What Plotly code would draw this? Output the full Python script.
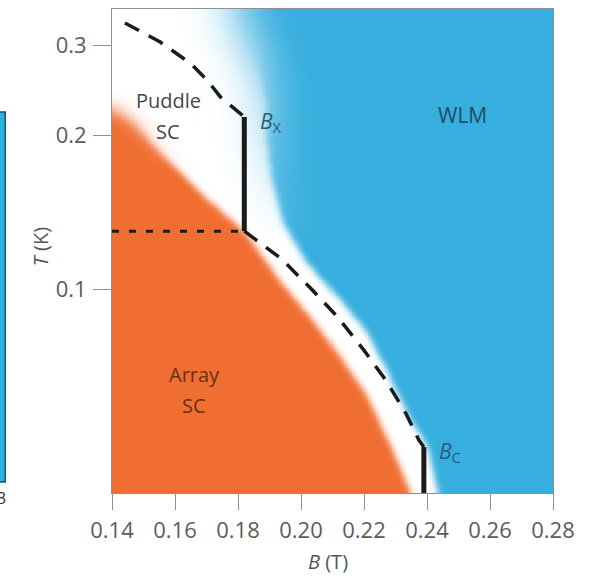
import numpy as np
import plotly.graph_objects as go

# ---- phase-diagram data (B in tesla, T in kelvin) ----
# edge of the array-superconductor (orange) region
array_edge_T = [0.226, 0.222, 0.212, 0.193, 0.150, 0.130, 0.104, 0.087, 0.075, 0.0617, 0.0479, 0.040, 0.030]
array_edge_B = [0.140, 0.142, 0.147, 0.1527, 0.1705, 0.182, 0.1935, 0.204, 0.2116, 0.2211, 0.2294, 0.2348, 0.238]

# edge of the weakly localized metal (blue) region
wlm_edge_T = [0.40, 0.352, 0.281, 0.2347, 0.1874, 0.1637, 0.1349, 0.1127, 0.0967, 0.0822, 0.0687, 0.0556, 0.0492, 0.040, 0.030]
wlm_edge_B = [0.176, 0.1790, 0.1865, 0.1890, 0.1897, 0.1910, 0.1945, 0.2020, 0.2116, 0.2211, 0.2275, 0.2348, 0.2402, 0.2434, 0.246]

# dashed crossover line, above and below B_X
upper_dash_B = [0.1441, 0.1553, 0.1648, 0.1702, 0.1744, 0.1791, 0.182]
upper_dash_T = [0.3319, 0.3046, 0.2771, 0.2567, 0.2379, 0.2244, 0.2174]
lower_dash_B = [0.182, 0.1935, 0.2030, 0.2116, 0.2199, 0.2269, 0.2332, 0.2374, 0.2390]
lower_dash_T = [0.130, 0.1152, 0.1007, 0.0884, 0.0762, 0.0665, 0.0574, 0.0508, 0.0492]

# characteristic fields
B_X, B_X_T = 0.182, [0.130, 0.2174]
B_C, B_C_T = 0.2390, [0.0492, 0.030]
T_puddle = 0.130  # dotted line up to B_X

x_range = [0.14, 0.28]
logT_range = [-1.3978, -0.4517]
x_ticks = [0.14, 0.16, 0.18, 0.20, 0.22, 0.24, 0.26, 0.28]
x_tick_text = ["0.14", "0.16", "0.18", "0.20", "0.22", "0.24", "0.26", "0.28"]
y_ticks = [0.1, 0.2, 0.3]
y_tick_text = ["0.1", "0.2", "0.3"]

ORANGE = "#F06E32"
BLUE = "#36AEDE"
FONT = "Open Sans"

# ---- colour field: masks from the edges, softened with a gaussian ----
nx, ny = 221, 243
Bg = np.linspace(x_range[0], x_range[1], nx)
LTg = np.linspace(logT_range[0], logT_range[1], ny)
BB, LL = np.meshgrid(Bg, LTg)

def edge_B(logT, T_list, B_list):
    lt = np.log10(np.array(T_list))[::-1]
    b = np.array(B_list)[::-1]
    return np.interp(logT, lt, b)

orange_mask = ((BB < edge_B(LL, array_edge_T, array_edge_B)) &
               (LL <= np.log10(array_edge_T[0]))).astype(float)
blue_mask = (BB > edge_B(LL, wlm_edge_T, wlm_edge_B)).astype(float)

def blur(a, sigma):
    r = int(np.ceil(3 * sigma))
    k = np.exp(-0.5 * (np.arange(-r, r + 1) / sigma) ** 2)
    k /= k.sum()
    p = np.pad(a, r, mode="edge")
    p = np.apply_along_axis(lambda v: np.convolve(v, k, mode="valid"), 1, p)
    p = np.apply_along_axis(lambda v: np.convolve(v, k, mode="valid"), 0, p)
    return p

# softer edges towards the top of the diagram
frac_top = (LL - logT_range[0]) / (logT_range[1] - logT_range[0])  # 0 bottom, 1 top
w_blue = np.clip((frac_top - 0.50) / (0.92 - 0.50), 0, 1)
w_orange = np.clip((frac_top - 0.66) / (0.80 - 0.66), 0, 1)

blue = (1 - w_blue) * blur(blue_mask, 1.6) + w_blue * blur(blue_mask, 12.0)
orange = (1 - w_orange) * blur(orange_mask, 1.6) + w_orange * blur(orange_mask, 4.0)
z = np.round(np.clip(blue - orange, -1, 1), 3)

fig = go.Figure()
fig.add_trace(go.Heatmap(
    x=Bg, y=10 ** LTg, z=z,
    colorscale=[[0, ORANGE], [0.5, "#FFFFFF"], [1, BLUE]],
    zmin=-1, zmax=1, showscale=False, hoverinfo="skip",
))

line_col = "#1b1b1b"
fig.add_trace(go.Scatter(x=[x_range[0], B_X], y=[T_puddle, T_puddle], mode="lines",
                         line=dict(color=line_col, width=3, dash="7px,10px"),
                         hoverinfo="skip", showlegend=False))
fig.add_trace(go.Scatter(x=upper_dash_B, y=upper_dash_T, mode="lines",
                         line=dict(color=line_col, width=3.5, dash="16px,11px"),
                         hoverinfo="skip", showlegend=False))
fig.add_trace(go.Scatter(x=lower_dash_B, y=lower_dash_T, mode="lines",
                         line=dict(color=line_col, width=3.5, dash="16px,11px"),
                         hoverinfo="skip", showlegend=False))
fig.add_trace(go.Scatter(x=[B_X, B_X], y=B_X_T, mode="lines",
                         line=dict(color=line_col, width=5),
                         hoverinfo="skip", showlegend=False))
fig.add_trace(go.Scatter(x=[B_C, B_C], y=B_C_T, mode="lines",
                         line=dict(color=line_col, width=5),
                         hoverinfo="skip", showlegend=False))

ax_col = "#8f8f8f"
tick_font = dict(family=FONT, size=22, color="#5c5c5c")
fig.update_xaxes(range=x_range, tickvals=x_ticks, ticktext=x_tick_text,
                 ticks="outside", ticklen=16, tickwidth=1, tickcolor=ax_col,
                 ticklabelstandoff=2,
                 showline=True, linecolor=ax_col, linewidth=1, mirror=True,
                 showgrid=False, zeroline=False, tickfont=tick_font)
fig.update_yaxes(type="log", range=logT_range, tickvals=y_ticks, ticktext=y_tick_text,
                 ticks="outside", ticklen=18, tickwidth=1, tickcolor=ax_col,
                 ticklabelstandoff=2,
                 showline=True, linecolor=ax_col, linewidth=1, mirror=True,
                 showgrid=False, zeroline=False, tickfont=tick_font)

def label(x, y, text, color, size=20, xanchor="center"):
    fig.add_annotation(x=x, y=np.log10(y), text=text, showarrow=False,
                       xanchor=xanchor, yanchor="middle",
                       font=dict(family=FONT, size=size, color=color))

label(0.1578, 0.2336, "Puddle", "#474747")
label(0.1578, 0.2032, "SC", "#474747")
label(0.1661, 0.0681, "Array", "#6a2f14")
label(0.1661, 0.0594, "SC", "#6a2f14")
label(0.2514, 0.2194, "WLM", "#1f4d69", size=21)
label(0.1862, 0.2126, "<i>B</i><sub>X</sub>", "#2c5b76", size=21, xanchor="left")
label(0.2433, 0.0481, "<i>B</i><sub>C</sub>", "#2c5b76", size=21, xanchor="left")

# axis titles
fig.add_annotation(xref="paper", yref="paper", x=0.489, y=-0.1405,
                   text="<i>B</i> (T)", showarrow=False, xanchor="center", yanchor="middle",
                   font=dict(family=FONT, size=20, color="#555555"))
fig.add_annotation(xref="paper", yref="paper", x=-0.1633, y=0.51,
                   text="<i>T</i> (K)", showarrow=False, textangle=-90,
                   xanchor="center", yanchor="middle",
                   font=dict(family=FONT, size=20, color="#555555"))

# edge of the neighbouring panel
fig.add_shape(type="rect", xref="paper", yref="paper",
              x0=-0.27, x1=-0.242, y0=(493 - 482) / 484, y1=(493 - 112) / 484,
              fillcolor="#2BB3E0", line=dict(color="#1d4f66", width=1.5), layer="below")
fig.add_annotation(xref="paper", yref="paper", x=-0.2358, y=(493 - 498) / 484,
                   text="3", showarrow=False, xanchor="right", yanchor="middle",
                   font=dict(family=FONT, size=16, color="#333333"))

fig.update_layout(width=595, height=581,
                  margin=dict(l=112, r=42, t=9, b=88),
                  paper_bgcolor="white", plot_bgcolor="white",
                  showlegend=False)

fig.write_html("out.html")
